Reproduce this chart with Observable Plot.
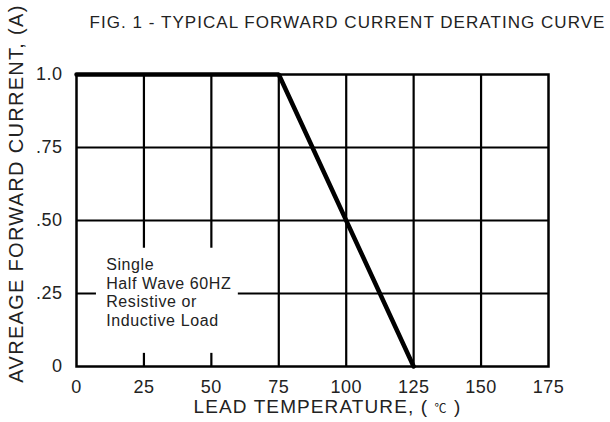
<!DOCTYPE html>
<html>
<head>
<meta charset="utf-8">
<script src="https://cdn.jsdelivr.net/npm/d3@7"></script>
<script src="https://cdn.jsdelivr.net/npm/@observablehq/plot@0.6"></script>
<style>
  html, body { margin: 0; padding: 0; background: #fff; }
  svg { display: block; }
</style>
</head>
<body>
<div id="chart"></div>
<script>
// ---- data ----
const temps = [0, 75, 125];            // lead temperature (°C)
const currents = [1.0, 1.0, 0];        // average forward current (A)
const xTicks = [0, 25, 50, 75, 100, 125, 150, 175];
const yTicks = [0, 0.25, 0.5, 0.75, 1.0];
const yTickLabels = ["0", ".25", ".50", ".75", "1.0"];
const xGrid = [25, 50, 75, 100, 125, 150];
const yGrid = [0.25, 0.5, 0.75];
const noteLines = ["Single", "Half Wave 60HZ", "Resistive or", "Inductive Load"];
const noteBox = [{x1: 7.4, x2: 60, y1: 0.045, y2: 0.405}];
const noteAnchor = [{x: 11, y: 0.255}];
const title = "FIG. 1 - TYPICAL FORWARD CURRENT DERATING CURVE";
const xLabel = "LEAD TEMPERATURE, ( ℃ )";
const yLabel = "AVREAGE FORWARD CURRENT, (A)";

const curve = temps.map((t, i) => ({t, a: currents[i]}));
const font = "'Liberation Sans', Arial, Helvetica, sans-serif";

const chart = Plot.plot({
  width: 610,
  height: 422,
  marginLeft: 76,
  marginRight: 62,
  marginTop: 74,
  marginBottom: 56,
  style: {fontFamily: font, color: "#222", background: "#fff", overflow: "visible"},
  x: {domain: [0, 175]},
  y: {domain: [0, 1]},
  marks: [
    Plot.ruleX(xGrid, {stroke: "#000", strokeWidth: 2.2}),
    Plot.ruleY(yGrid, {stroke: "#000", strokeWidth: 2.2}),
    Plot.rect(noteBox, {x1: "x1", x2: "x2", y1: "y1", y2: "y2", fill: "#fff"}),
    Plot.frame({stroke: "#000", strokeWidth: 2.5}),
    Plot.line(curve, {x: "t", y: "a", stroke: "#000", strokeWidth: 4.5, strokeLinejoin: "miter"}),
    Plot.text(noteAnchor, {x: "x", y: "y", text: () => noteLines.join("\n"), textAnchor: "start",
      lineAnchor: "middle", lineHeight: 1.15, fontSize: 16, fill: "#222", className: "note"}),
    Plot.axisX({ticks: xTicks, tickSize: 0, tickPadding: 14, fontSize: 18, label: null, fill: "#222", className: "xticks"}),
    Plot.axisY({ticks: yTicks, tickSize: 0, tickPadding: 14, fontSize: 18, label: null, fill: "#222", className: "yticks",
      tickFormat: d => yTickLabels[yTicks.indexOf(d)]}),
    Plot.text([title], {frameAnchor: "top", dx: 35, dy: -52, fontSize: 17, fill: "#222",
      textAnchor: "middle", lineAnchor: "middle", className: "ttl"}),
    Plot.text([xLabel], {frameAnchor: "bottom", dx: 15, dy: 40, fontSize: 19, fill: "#222",
      textAnchor: "middle", lineAnchor: "middle", className: "xlab"}),
    Plot.text([yLabel], {frameAnchor: "left", rotate: -90, dx: -60, dy: -27, fontSize: 20, fill: "#222",
      textAnchor: "middle", lineAnchor: "middle", className: "ylab"})
  ]
});

const svg = d3.select(chart);
// letter spacing to match the wide lettering of the original figure
const spacing = [["ttl", "1.05px"], ["xlab", "1.1px"], ["ylab", "1.3px"], ["note", "0.6px"], ["xticks", "0.5px"], ["yticks", "0.5px"]];
for (const [cls, ls] of spacing) {
  svg.selectAll("." + cls + ", ." + cls + " text").style("letter-spacing", ls);
}

// make the degree sign smaller, as in the original figure
svg.selectAll("text").each(function () {
  const t = this.textContent;
  if (t === xLabel) {
    const parts = t.split("℃");
    const el = d3.select(this);
    el.text(null);
    el.append("tspan").text(parts[0]);
    el.append("tspan").attr("font-size", 12).attr("font-family", "'Noto Sans CJK SC', sans-serif").text("℃");
    el.append("tspan").text(parts[1]);
  }
});

document.getElementById("chart").appendChild(chart);
</script>
</body>
</html>
